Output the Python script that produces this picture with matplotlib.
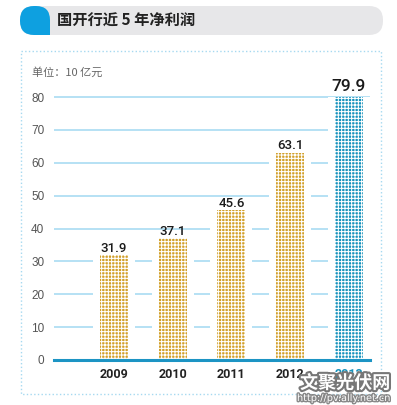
import matplotlib
matplotlib.use('Agg')
import matplotlib.pyplot as plt
from matplotlib.patches import FancyBboxPatch, Rectangle
import matplotlib.patheffects as pe

# ---- data ----
years = ['2009', '2010', '2011', '2012', '2013']
profits = [31.9, 37.1, 45.6, 63.1, 79.9]
yticks = [0, 10, 20, 30, 40, 50, 60, 70, 80]
title = '国开行近 5 年净利润'
unit_label = '单位：10 亿元'

GOLD = '#d2a02a'
BLUE = '#1692bc'
bar_colors = [GOLD, GOLD, GOLD, GOLD, BLUE]

CJK = ['Noto Sans CJK SC', 'DejaVu Sans']
NUM = ['Roboto', 'Liberation Sans', 'DejaVu Sans']

plt.rcParams['hatch.linewidth'] = 0.75

W, H = 397, 405
fig = plt.figure(figsize=(W / 100, H / 100), dpi=100)

# background / decoration layer in pixel coordinates
bg = fig.add_axes([0, 0, 1, 1])
bg.set_xlim(0, W)
bg.set_ylim(H, 0)
bg.axis('off')

bg.add_patch(FancyBboxPatch((20, 6), 363, 29, boxstyle='round,pad=0,rounding_size=14',
                            fc='#e7e7e9', ec='none'))
bg.add_patch(FancyBboxPatch((20, 6), 30, 29, boxstyle='round,pad=0,rounding_size=14',
                            fc='#0ea0e0', ec='none'))
bg.add_patch(Rectangle((35, 20.5), 15, 14.5, fc='#0ea0e0', ec='none'))
bg.text(57, 21, title, fontsize=11, fontweight='bold', color='#222222',
        va='center', ha='left', family=CJK)

bg.add_patch(Rectangle((20.5, 50.5), 360, 343, fill=False, ec='#a6d9f0', lw=1, ls=':'))
bg.text(32, 72, unit_label, fontsize=8, color='#666666', va='center', ha='left', family=CJK)

# main chart
left, right = 54, 370
ymax = 82
px_per_unit = (360 - 97) / 80.0
top_px = 360 - ymax * px_per_unit
ax = fig.add_axes([left / W, 1 - 360 / H, (right - left) / W, (360 - top_px) / H])
ax.set_facecolor('none')
ax.set_xlim(-1.02, 4.36)
ax.set_ylim(0, ymax)

x = list(range(len(years)))
ax.set_yticks(yticks)
ax.yaxis.grid(True, color='#a9dcf2', lw=1.2)
ax.set_axisbelow(True)

# white padding bars that interrupt the grid lines
ax.bar(x, profits, width=0.715, color='white', lw=0, zorder=2)
# dotted bars
ax.bar(x, profits, width=0.477, color=bar_colors, edgecolor='white', hatch='+++++',
       lw=0, zorder=3)

ax.axhline(0, color='#1c94c4', lw=2.2, zorder=4, clip_on=False)

for s in ax.spines.values():
    s.set_visible(False)

ax.tick_params(axis='y', length=0, pad=7, labelsize=8.5, labelcolor='#555555')
for lab in ax.get_yticklabels():
    lab.set_family(['Liberation Sans', 'DejaVu Sans'])

ax.set_xticks(x)
ax.set_xticklabels(years)
ax.tick_params(axis='x', length=0, pad=6)
for i, lab in enumerate(ax.get_xticklabels()):
    lab.set_family(NUM)
    lab.set_fontsize(9)
    lab.set_fontweight('bold')
    lab.set_color(BLUE if i == len(years) - 1 else '#222222')

for i, v in enumerate(profits):
    big = i == len(profits) - 1
    ax.text(i, v + (1.8 if big else 1.0), f'{v}', ha='center', va='baseline',
            fontsize=12.5 if big else 9.5, color='#1a1a1a', family=NUM,
            fontweight='medium', zorder=5, clip_on=False)

# watermark
fig.text(300 / W, 1 - 383 / H, '文聚光伏网', fontsize=13, fontweight='bold', color='white',
         family=CJK, va='center', ha='left',
         path_effects=[pe.withStroke(linewidth=3, foreground='#777777')])
fig.text(297 / W, 1 - 398 / H, 'http://pv.ally.net.cn', fontsize=7, color='white',
         va='center', ha='left',
         path_effects=[pe.withStroke(linewidth=2, foreground='#888888')])

fig.savefig('out.png', dpi=100)
